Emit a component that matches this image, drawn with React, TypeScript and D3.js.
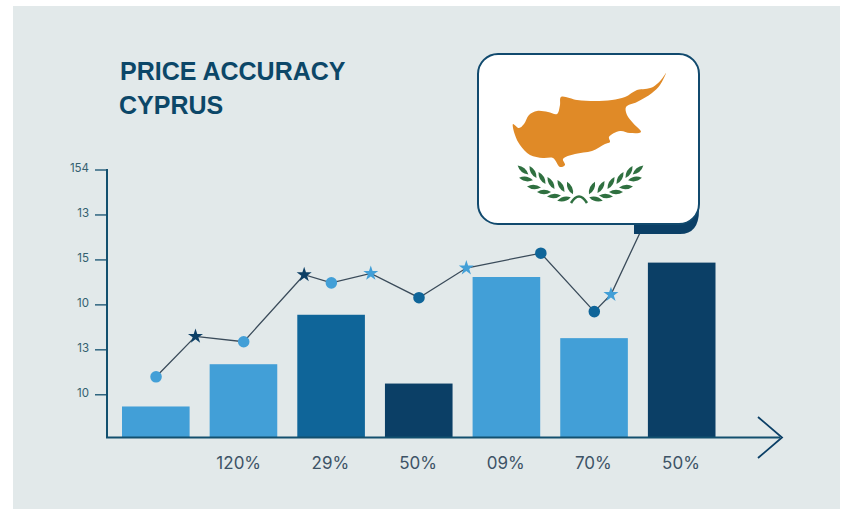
import React from 'react';
import * as d3 from 'd3';

// values, y in tick units (tick 1 = first "10" label)
const barLabels = ['', '120%', '29%', '50%', '09%', '70%', '50%'];
const barValues = [0.74, 1.68, 2.78, 1.25, 3.62, 2.26, 3.94];
const barShades = ['light', 'light', 'mid', 'dark', 'light', 'light', 'dark'];

const yTickValues = [1, 2, 3, 4, 5, 6];
const yTickLabels = ['10', '13', '10', '15', '13', '154'];

// x in bar slots (0 = centre of first bar)
const lineX = [0, 0.45, 1, 1.69, 2, 2.45, 3, 3.54, 4.39, 5, 5.19, 5.52];
const lineY = [1.4, 2.3, 2.18, 3.67, 3.49, 3.7, 3.16, 3.82, 4.15, 2.85, 3.23, 4.6];
const lineMarks = ['circle', 'star', 'circle', 'star', 'circle', 'star', 'circle', 'star', 'circle', 'circle', 'star', 'none'];
const lineShades = ['light', 'dark', 'light', 'dark', 'light', 'light', 'mid', 'light', 'mid', 'mid', 'light', 'none'];

const colors: Record<string, string> = {
  light: '#429fd7',
  mid: '#0f6599',
  dark: '#0b3f66',
};

// flag artwork, in flag-local pixels
const islandPoints: [number, number][] = [
  [196, 33], [191, 40], [183, 47], [175, 49], [167, 50], [155, 57], [142, 60], [125, 61], [107, 60], [91, 57],
  [90, 65], [87, 74], [78, 72], [67, 71], [59, 75], [54, 84], [49, 88], [43, 84], [45, 95], [50, 105],
  [60, 115], [73, 118], [83, 118], [90, 127], [95, 125], [93, 119], [105, 114], [122, 111], [135, 104],
  [140, 102], [139, 97], [150, 91], [160, 93], [171, 92], [163, 83], [157, 75], [156, 67], [167, 62],
  [182, 53], [190, 45],
];
const leaves: [number, number, number][] = [
  [53, 130, 40], [63, 132, 60], [72, 138, 60], [81, 143, 60], [91, 146, 60], [100, 148, 65],
  [56, 139, 10], [64, 147, 5], [74, 152, 0], [84, 156, -5], [94, 159, -15],
  [168, 130, -40], [159, 132, -60], [150, 138, -60], [141, 143, -60], [131, 147, -60], [122, 148, -65],
  [165, 139, -10], [156, 147, -5], [146, 152, 0], [136, 156, 5], [126, 159, 15],
];

const width = 851;
const height = 509;
const fontFamily = 'Inter, sans-serif';

const App = () => {
  const svgRef = React.useRef<SVGSVGElement>(null);

  React.useEffect(() => {
    const svg = d3.select(svgRef.current);
    svg.selectAll('*').remove();

    const axisColor = '#12506f';
    const baseline = 437.5;

    svg.append('rect').attr('width', width).attr('height', height).attr('fill', '#ffffff');
    svg.append('rect')
      .attr('x', 13).attr('y', 6)
      .attr('width', 827).attr('height', 503)
      .attr('fill', '#e2e9ea');

    const x = d3.scaleBand<number>()
      .domain(barValues.map((_, i) => i))
      .range([122, 716])
      .paddingInner(0.223)
      .paddingOuter(0);
    const y = d3.scaleLinear().domain([0.05, 6]).range([baseline, 170]);
    const slot = d3.scaleLinear()
      .domain([0, 6])
      .range([x(0)! + x.bandwidth() / 2, x(6)! + x.bandwidth() / 2]);

    // Title
    const title = svg.append('g')
      .style('font-family', '"Liberation Sans", sans-serif')
      .style('font-size', '25px')
      .style('font-weight', 700)
      .style('fill', '#0c4768');
    title.append('text').attr('x', 120).attr('y', 80).text('PRICE ACCURACY');
    title.append('text').attr('x', 119).attr('y', 114).text('CYPRUS');

    // Bars
    svg.append('g').selectAll('rect')
      .data(barValues)
      .enter()
      .append('rect')
      .attr('x', (_, i) => x(i)!)
      .attr('y', d => y(d))
      .attr('width', x.bandwidth() - 0.5)
      .attr('height', d => baseline - y(d))
      .attr('fill', (_, i) => colors[barShades[i]]);

    // Y axis
    const yAxis = svg.append('g')
      .attr('transform', 'translate(107, 0)')
      .call(
        d3.axisLeft(y)
          .offset(0)
          .tickValues(yTickValues)
          .tickSize(12)
          .tickPadding(6)
          .tickFormat((_, i) => yTickLabels[i])
      );
    yAxis.select('.domain').remove();
    yAxis.selectAll('line').attr('stroke', axisColor).attr('stroke-width', 1.3);
    yAxis.selectAll('text')
      .attr('dy', '0.2em')
      .style('font-family', fontFamily)
      .style('font-size', '11.5px')
      .style('fill', '#33606f');
    svg.append('line')
      .attr('x1', 107).attr('x2', 107)
      .attr('y1', 169).attr('y2', baseline)
      .attr('stroke', axisColor).attr('stroke-width', 2);

    // X axis with arrow
    const xAxis = svg.append('g')
      .attr('transform', `translate(0, ${baseline})`)
      .call(
        d3.axisBottom(x)
          .offset(0)
          .tickSize(0)
          .tickPadding(19)
          .tickFormat(i => barLabels[i as number])
      );
    xAxis.select('.domain').remove();
    xAxis.selectAll('text')
      .attr('dx', (_, i) => (i === 1 ? -5 : -1))
      .style('font-family', fontFamily)
      .style('font-size', '17px')
      .style('fill', '#3d5366');
    svg.append('line')
      .attr('x1', 106).attr('x2', 780)
      .attr('y1', baseline).attr('y2', baseline)
      .attr('stroke', axisColor).attr('stroke-width', 2);
    svg.append('path')
      .attr('d', d3.line()([[758, 417], [782, 437.5], [758, 458]]))
      .attr('fill', 'none')
      .attr('stroke', '#0b3f66')
      .attr('stroke-width', 1.8);

    // Line + markers
    const linePath = d3.line<number>()
      .x(d => slot(d))
      .y((_, i) => y(lineY[i]));
    svg.append('path')
      .attr('d', linePath(lineX))
      .attr('fill', 'none')
      .attr('stroke', '#3a4b5a')
      .attr('stroke-width', 1.3);

    const star = d3.symbol().type(d3.symbolStar).size(70);
    const dot = d3.symbol().type(d3.symbolCircle).size(105);
    svg.append('g').selectAll('path')
      .data(lineX)
      .enter()
      .filter((_, i) => lineMarks[i] !== 'none')
      .append('path')
      .attr('transform', d => {
        const k = lineX.indexOf(d);
        return `translate(${slot(d)}, ${y(lineY[k])})`;
      })
      .attr('d', d => (lineMarks[lineX.indexOf(d)] === 'star' ? star() : dot()))
      .attr('fill', d => colors[lineShades[lineX.indexOf(d)]]);

    // Flag callout
    const flag = svg.append('g').attr('transform', 'translate(470, 40)');
    flag.append('path')
      .attr('d', 'M164 170 L164 194 L210 194 Q229 194 229 170 Z')
      .attr('fill', '#0b3f66');
    flag.append('rect')
      .attr('x', 8).attr('y', 14)
      .attr('width', 221).attr('height', 170)
      .attr('rx', 20)
      .attr('fill', '#ffffff')
      .attr('stroke', '#114a6e')
      .attr('stroke-width', 2);
    flag.append('path')
      .attr('d', d3.line().curve(d3.curveCatmullRomClosed.alpha(0.5))(islandPoints))
      .attr('fill', '#e08a27');
    flag.selectAll('path.leaf')
      .data(leaves)
      .enter()
      .append('path')
      .attr('class', 'leaf')
      .attr('d', 'M-7 0 Q0 -4.5 7 0 Q0 4.5 -7 0 Z')
      .attr('transform', d => `translate(${d[0]}, ${d[1]}) rotate(${d[2]})`)
      .attr('fill', '#2f7040');
    flag.append('path')
      .attr('d', 'M101 163 Q109 150 117 163')
      .attr('fill', 'none')
      .attr('stroke', '#2f7040')
      .attr('stroke-width', 2.5);
  }, []);

  return (
    <svg
      ref={svgRef}
      width={width}
      height={height}
      style={{ position: 'absolute', left: 0, top: 0 }}
    />
  );
};

export default App;
